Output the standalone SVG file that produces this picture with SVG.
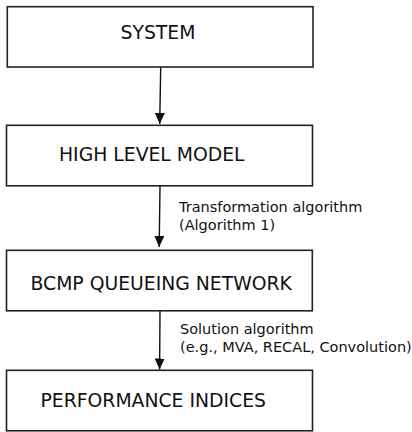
<svg xmlns="http://www.w3.org/2000/svg" width="412" height="432" viewBox="0 0 412 432">
<style>
.box{fill:#fff;stroke:#222;stroke-width:1.6}
.big{font-family:"DejaVu Sans",sans-serif;font-size:18.8px;fill:#111}
.small{font-family:"DejaVu Sans",sans-serif;font-size:14.5px;fill:#111}
.edge{stroke:#111;stroke-width:1.4;fill:none;marker-end:url(#ah)}
</style>
<defs>
<marker id="ah" markerUnits="userSpaceOnUse" markerWidth="11" markerHeight="10" refX="11" refY="5" orient="auto" viewBox="0 0 11 10">
<path d="M0,0 L11,5 L0,10 z" fill="#111"/>
</marker>
</defs>
<rect width="412" height="432" fill="#fff"/>
<g id="system">
<rect class="box" x="7.3" y="6.7" width="305.7" height="60.3"/>
<text class="big" x="120.5" y="39">SYSTEM</text>
</g>
<g id="high-level-model">
<rect class="box" x="6.5" y="125.3" width="306" height="60.5"/>
<text class="big" x="59" y="160.7">HIGH LEVEL MODEL</text>
</g>
<g id="bcmp">
<rect class="box" x="6.5" y="250.3" width="305.8" height="60.5"/>
<text class="big" x="30.5" y="290">BCMP QUEUEING NETWORK</text>
</g>
<g id="performance">
<rect class="box" x="6.5" y="370.3" width="306" height="60.5"/>
<text class="big" x="40.5" y="407">PERFORMANCE INDICES</text>
</g>
<g id="connectors">
<path class="edge" d="M160.7,67 L159.7,124"/>
<path class="edge" d="M160,186 L159.2,247"/>
<path class="edge" d="M160,311 L159.6,369.5"/>
<text class="small" x="179" y="211.7">Transformation algorithm</text>
<text class="small" x="179" y="230">(Algorithm 1)</text>
<text class="small" x="180" y="334.3">Solution algorithm</text>
<text class="small" x="180" y="352.3">(e.g., MVA, RECAL, Convolution)</text>
</g>
</svg>
